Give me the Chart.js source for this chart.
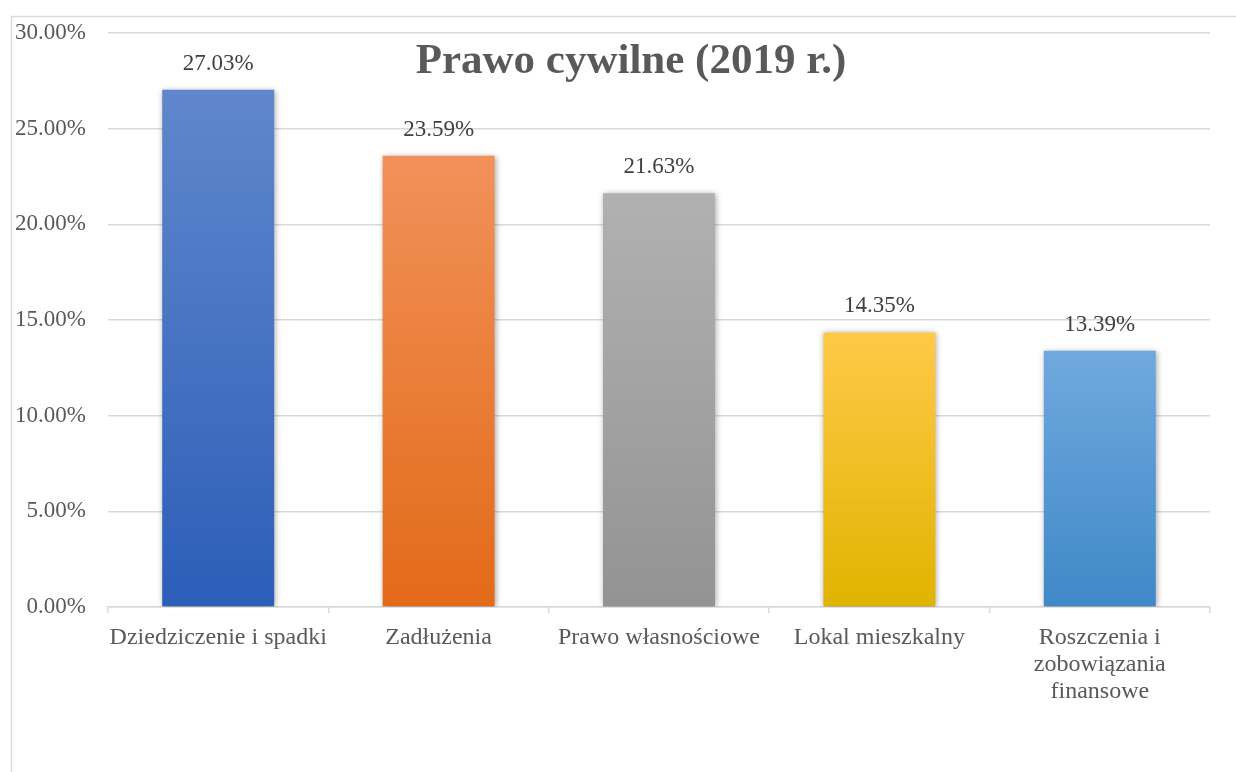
<!DOCTYPE html>
<html>
<head>
<meta charset="utf-8">
<script src="https://cdn.jsdelivr.net/npm/chart.js@4"></script>
<style>
  html, body { margin: 0; padding: 0; background: #fff; }
  #wrap { width: 1236px; height: 772px; position: relative; }
</style>
</head>
<body>
<div id="wrap"><canvas id="barChart"></canvas></div>
<script>
const categories = [
  'Dziedziczenie i spadki',
  'Zadłużenia',
  'Prawo własnościowe',
  'Lokal mieszkalny',
  ['Roszczenia i', 'zobowiązania', 'finansowe']
];
const values = [27.03, 23.59, 21.63, 14.35, 13.39];
const topColors = ['#6087CC', '#F1915A', '#B1B1B1', '#FFC948', '#70A9DE'];
const bottomColors = ['#2C5EB8', '#E36A18', '#939393', '#E1B300', '#3F88C8'];
const yTicks = [0, 5, 10, 15, 20, 25, 30];

const serif = '"Liberation Serif", "Times New Roman", serif';

// ramka wykresu (lewa i górna krawędź)
const framePlugin = {
  id: 'frame',
  beforeDraw(chart) {
    const ctx = chart.ctx;
    ctx.save();
    ctx.strokeStyle = '#D9D9D9';
    ctx.lineWidth = 1.5;
    ctx.beginPath();
    ctx.moveTo(11.5, chart.height);
    ctx.lineTo(11.5, 16.5);
    ctx.lineTo(chart.width, 16.5);
    ctx.stroke();
    ctx.restore();
  }
};

const shadowPlugin = {
  id: 'barShadow',
  beforeDatasetsDraw(chart) {
    const ctx = chart.ctx;
    ctx.save();
    ctx.shadowColor = 'rgba(0,0,0,0.35)';
    ctx.shadowBlur = 6;
    ctx.shadowOffsetX = 1;
    ctx.shadowOffsetY = 1;
  },
  afterDatasetsDraw(chart) {
    chart.ctx.restore();
  }
};

const labelsPlugin = {
  id: 'valueLabels',
  afterDatasetsDraw(chart) {
    const ctx = chart.ctx;
    const meta = chart.getDatasetMeta(0);
    ctx.save();
    ctx.font = '23px ' + serif;
    ctx.fillStyle = '#404040';
    ctx.textAlign = 'center';
    ctx.textBaseline = 'middle';
    meta.data.forEach((bar, i) => {
      ctx.fillText(values[i].toFixed(2) + '%', bar.x, bar.y - 26);
    });
    ctx.restore();
  }
};

const titlePlugin = {
  id: 'overlayTitle',
  afterDraw(chart) {
    const ctx = chart.ctx;
    ctx.save();
    ctx.font = 'bold 43px ' + serif;
    ctx.fillStyle = '#595959';
    ctx.textAlign = 'center';
    ctx.textBaseline = 'middle';
    ctx.fillText('Prawo cywilne (2019 r.)', 631, 62);
    ctx.restore();
  }
};

function barGradient(context) {
  const chart = context.chart;
  const i = context.dataIndex;
  if (!chart.chartArea) return topColors[i];
  const y = chart.scales.y;
  const top = y.getPixelForValue(values[i]);
  const bottom = y.getPixelForValue(0);
  const g = chart.ctx.createLinearGradient(0, top, 0, bottom);
  g.addColorStop(0, topColors[i]);
  g.addColorStop(1, bottomColors[i]);
  return g;
}

new Chart(document.getElementById('barChart'), {
  type: 'bar',
  data: {
    labels: categories,
    datasets: [{
      data: values,
      backgroundColor: barGradient,
      borderWidth: 0,
      categoryPercentage: 1,
      barPercentage: 0.508
    }]
  },
  options: {
    responsive: true,
    maintainAspectRatio: false,
    animation: false,
    layout: { autoPadding: false, padding: { left: 12, top: 33, right: 26, bottom: 0 } },
    plugins: {
      legend: { display: false },
      title: { display: false },
      tooltip: { enabled: false }
    },
    scales: {
      x: {
        grid: {
          offset: true,
          drawOnChartArea: false,
          drawTicks: true,
          tickLength: 6,
          color: '#D9D9D9',
          lineWidth: 1.5
        },
        border: { display: true, color: '#D9D9D9', width: 1.5 },
        ticks: {
          font: { family: serif, size: 24, lineHeight: 1.13 },
          color: '#595959',
          padding: 11,
          maxRotation: 0,
          autoSkip: false
        },
        afterFit(scale) {
          scale.height = 165;
          scale.paddingLeft = 0;
          scale.paddingRight = 0;
        }
      },
      y: {
        min: 0,
        max: 30,
        afterBuildTicks(scale) {
          scale.ticks = yTicks.map(v => ({ value: v }));
        },
        grid: { color: '#D9D9D9', lineWidth: 1.5, drawTicks: false },
        border: { display: false },
        ticks: {
          font: { family: serif, size: 23 },
          color: '#595959',
          padding: 22,
          callback: v => v.toFixed(2) + '%'
        },
        afterFit(scale) {
          scale.width = 96;
          scale.paddingTop = 0;
          scale.paddingBottom = 0;
        }
      }
    }
  },
  plugins: [framePlugin, shadowPlugin, labelsPlugin, titlePlugin]
});
</script>
</body>
</html>
